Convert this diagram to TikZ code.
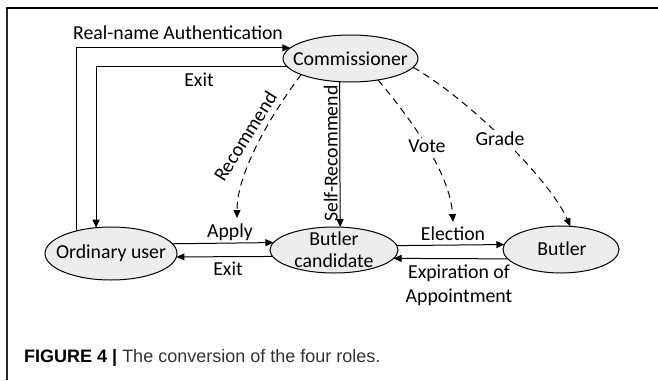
\documentclass[tikz,border=0pt]{standalone}
\usepackage{fontspec}
\setmainfont{Carlito}
\newfontfamily\capfont{Liberation Sans}
\usetikzlibrary{arrows.meta,shapes.geometric,calc}
\tikzset{
  ell/.style={ellipse, draw=black, line width=1pt, fill=black!7, inner sep=0pt, outer sep=0pt},
  ntext/.style={font=\fontsize{19.8}{22}\selectfont, inner sep=0pt, anchor=base, align=center},
  lbl/.style={font=\fontsize{19.8}{24}\selectfont, inner sep=0pt, anchor=base, align=center},
  conn/.style={line width=1pt, -{Triangle[length=8pt,width=7pt]}},
  dconn/.style={conn, dash pattern=on 7pt off 5pt},
}
\begin{document}
\begin{tikzpicture}[x=1pt,y=-1pt]
\useasboundingbox (0,0) rectangle (658,380);
% frame
\draw[line width=1.2pt, black!85] (7,380) -- (7,8);
\draw[line width=1.8pt, black] (6.4,8) -- (658,8);
% ellipses
\node[ell, minimum width=135pt, minimum height=47pt] (comm) at (350.5,58.5) {};
\node[ell, minimum width=132pt, minimum height=53pt] (ou) at (111,253.5) {};
\node[ell, minimum width=128pt, minimum height=46pt] (cand) at (334,250) {};
\node[ell, minimum width=116pt, minimum height=47pt] (but) at (561,249.5) {};
% ellipse texts
\node[ntext] (commT) at (350.5,65) {Commissioner};
\node[ntext] (ouT) at (111,258) {Ordinary user};
\node[ntext] (candT) at (334,267) {Butler\\candidate};
\node[ntext] (butT) at (562,255) {Butler};
% solid connectors
\draw[conn] (ou.147.3) |- (comm.170.14);
\draw[conn] (comm.187.7) -| (ou.120.2);
\draw[conn] (comm.245.65) -- (cand.75.3);
\draw[conn] (ou.9.83) -- (cand.173.45);
\draw[conn] (cand.186.55) -- (ou.-3.06);
\draw[conn] (cand.4.58) -- (but.175.48);
\draw[conn] (but.190.15) -- (cand.-8.69);
% dashed connectors
\coordinate (recEnd) at (237,218);
\coordinate (voteEnd) at (453,222);
\draw[dconn] (comm.198.6) .. controls (267,120) and (237,175) .. (recEnd);
\draw[dconn] (comm.-38) .. controls (405,112) and (450,170) .. (voteEnd);
\draw[dconn] (comm.-8.1) .. controls (470,100) and (550,180) .. (but.68.8);
% labels
\node[lbl] (lReal) at (178,39) {Real-name Authentication};
\node[lbl] (lExit1) at (199,86) {Exit};
\node[lbl, anchor=base, rotate=58] (lRec) at (251,140) {Recommend};
\node[lbl, anchor=base, rotate=90] (lSelf) at (337.5,153.5) {Self-Recommend};
\node[lbl, anchor=center, fill=white, inner sep=2pt] (lVote) at (427,146) {Vote};
\node[lbl, anchor=center, fill=white, inner sep=2pt] (lGrade) at (500,139) {Grade};
\node[lbl] (lApply) at (230,237) {Apply};
\node[lbl] (lExit2) at (228,275) {Exit};
\node[lbl] (lElec) at (453,240) {Election};
\node[lbl] (lExp) at (459,302) {Expiration of\\Appointment};
% caption
\node[inner sep=0pt, anchor=base west, font=\capfont\fontsize{18}{20}\selectfont] (cap) at (24,362)
  {\textbf{FIGURE 4 |} \textcolor{black!80}{The conversion of the four roles.}};
\end{tikzpicture}
\end{document}
